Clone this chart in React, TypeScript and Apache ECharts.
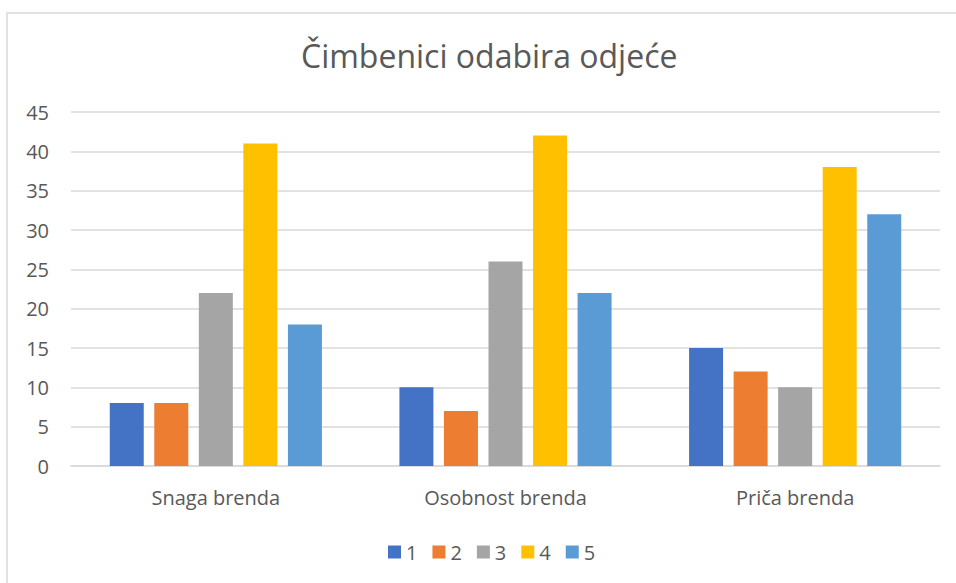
import React, { useEffect, useRef } from "react";
import * as echarts from "echarts";

const categories = ["Snaga brenda", "Osobnost brenda", "Priča brenda"];
const seriesNames = ["1", "2", "3", "4", "5"];
const seriesValues = [
  [8, 10, 15],
  [8, 7, 12],
  [22, 26, 10],
  [41, 42, 38],
  [18, 22, 32],
];
const colors = ["#4472C4", "#ED7D31", "#A5A5A5", "#FFC000", "#5B9BD5"];
const titleText = "Čimbenici odabira odjeće";

export default function App() {
  const ref = useRef<HTMLDivElement>(null);
  useEffect(() => {
    if (!ref.current) return;
    const chart = echarts.init(ref.current, undefined, { renderer: "svg" });
    const font = "'Open Sans', 'Noto Sans', sans-serif";
    chart.setOption({
      animation: false,
      backgroundColor: "#ffffff",
      textStyle: { fontFamily: font },
      title: {
        text: titleText,
        left: 296,
        top: 34,
        textStyle: { fontFamily: font, fontSize: 32, fontWeight: "normal", color: "#595959" },
      },
      graphic: [
        {
          type: "rect",
          shape: { x: 7, y: 13, width: 980, height: 620 },
          style: { fill: "none", stroke: "#d9d9d9", lineWidth: 1.5 },
          silent: true,
        },
      ],
      legend: {
        top: 537,
        left: 383,
        itemWidth: 13,
        itemHeight: 13,
        itemGap: 15,
        icon: "rect",
        textStyle: { fontFamily: font, fontSize: 20, color: "#595959" },
        data: seriesNames,
      },
      grid: { left: 71, right: 16, top: 112, bottom: 117 },
      xAxis: {
        type: "category",
        data: categories,
        axisLine: { lineStyle: { color: "#d9d9d9", width: 1.5 } },
        axisTick: { show: false },
        axisLabel: { fontFamily: font, fontSize: 20, color: "#595959", margin: 21 },
      },
      yAxis: {
        type: "value",
        min: 0,
        max: 45,
        interval: 5,
        axisLine: { show: false },
        axisTick: { show: false },
        splitLine: { lineStyle: { color: "#d9d9d9", width: 1.5 } },
        axisLabel: { fontFamily: font, fontSize: 20, color: "#595959", margin: 22 },
      },
      series: seriesNames.map((name, i) => ({
        name,
        type: "bar",
        data: seriesValues[i],
        barWidth: 34,
        barGap: "31%",
        itemStyle: { color: colors[i] },
      })),
    });
    return () => chart.dispose();
  }, []);
  return (
    <div
      ref={ref}
      style={{ position: "fixed", left: 0, top: 0, width: 956, height: 583 }}
    />
  );
}
